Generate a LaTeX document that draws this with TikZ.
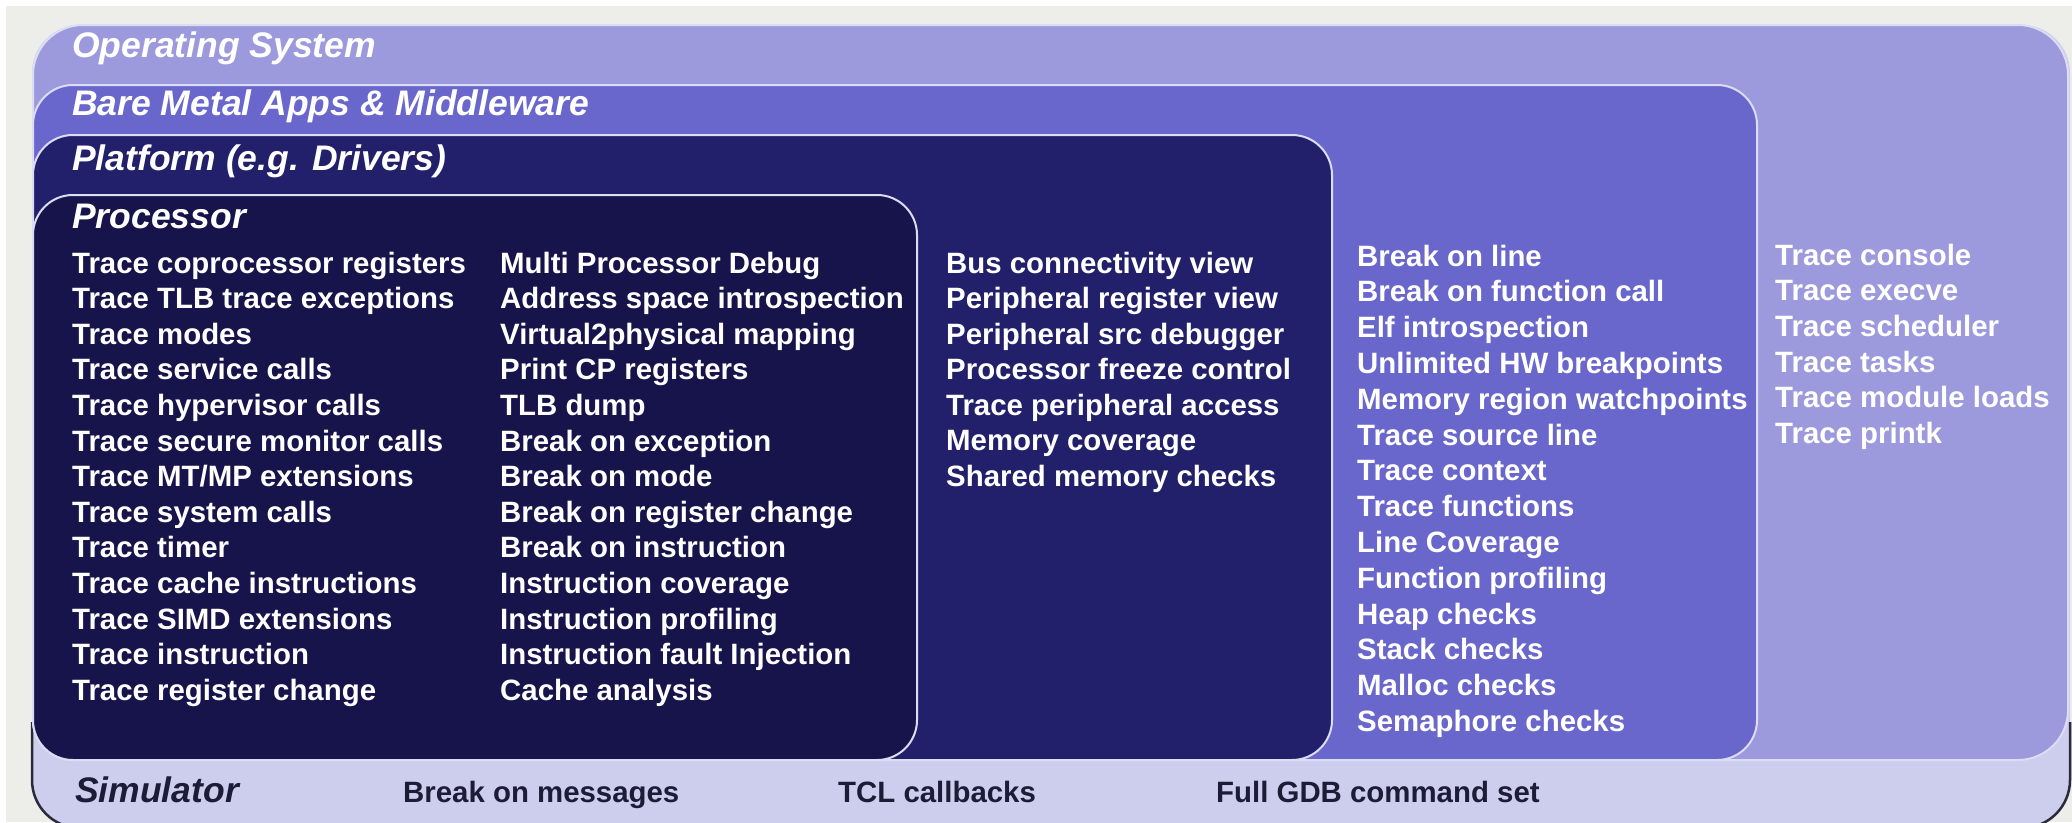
\documentclass[tikz,border=0pt]{standalone}
\usepackage{fontspec}
\setmainfont{Liberation Sans}
\definecolor{backgray}{HTML}{EDEEEA}
\definecolor{simfill}{HTML}{CDCDEE}
\definecolor{osfill}{HTML}{9C9ADC}
\definecolor{bmfill}{HTML}{6967CC}
\definecolor{platfill}{HTML}{22206A}
\definecolor{procfill}{HTML}{16144A}
\definecolor{edgeline}{HTML}{DCDCF4}
\definecolor{simtext}{HTML}{1C1C36}
\definecolor{simedge}{HTML}{2A2A3A}

\begin{document}
\begin{tikzpicture}[x=1pt,y=-1pt,
  layer/.style={draw=edgeline,line width=2pt,rounded corners=40pt},
  head/.style={anchor=base west,inner sep=0pt,text=white,
    font=\fontsize{35.5}{40}\selectfont\bfseries\itshape},
  item/.style={anchor=base west,inner sep=0pt,text=white,
    font=\fontsize{29.4}{35}\selectfont\bfseries},
  simitem/.style={item,text=simtext}]

  \useasboundingbox (0,0) rectangle (2072,822);
  \fill[backgray] (6,6) rectangle (2072,822);

  % simulator, with its dark lower rim
  \fill[simfill, rounded corners=48pt] (32,25) rectangle (2070,828);
  \begin{scope}
  \clip (0,722) rectangle (2072,822);
  \draw[simedge, line width=2.5pt, rounded corners=48pt] (32,25) rectangle (2070,828);
  \end{scope}

  \filldraw[layer, fill=osfill, rounded corners=50pt] (33,25) rectangle (2068,760);
  \filldraw[layer, fill=bmfill] (33,85) rectangle (1757,760);
  \filldraw[layer, fill=platfill] (33,135) rectangle (1332,760);
  \filldraw[layer, fill=procfill] (33,195) rectangle (917,760);

  \node[head] (os)   at (72,57)  {Operating System};
  \node[head] (bm)   at (72,115) {Bare Metal Apps \& Middleware};
  \node[head] (plat) at (72,170) {Platform (e.g. Drivers)};
  \node[head] (proc) at (72,228) {Processor};

  \foreach \txt [count=\i] in {Trace coprocessor registers, Trace TLB trace exceptions,
      Trace modes, Trace service calls, Trace hypervisor calls, Trace secure monitor calls,
      Trace MT/MP extensions, Trace system calls, Trace timer, Trace cache instructions,
      Trace SIMD extensions, Trace instruction, Trace register change}
    \node[item] (proca\i) at (72,{273+35.6*(\i-1)}) {\txt};

  \foreach \txt [count=\i] in {Multi Processor Debug, Address space introspection,
      Virtual2physical mapping, Print CP registers, TLB dump, Break on exception,
      Break on mode, Break on register change, Break on instruction, Instruction coverage,
      Instruction profiling, Instruction fault Injection, Cache analysis}
    \node[item] (procb\i) at (500,{273+35.6*(\i-1)}) {\txt};

  \foreach \txt [count=\i] in {Bus connectivity view, Peripheral register view,
      Peripheral src debugger, Processor freeze control, Trace peripheral access,
      Memory coverage, Shared memory checks}
    \node[item] (plat\i) at (946,{273+35.5*(\i-1)}) {\txt};

  \foreach \txt [count=\i] in {Break on line, Break on function call, Elf introspection,
      Unlimited HW breakpoints, Memory region watchpoints, Trace source line, Trace context,
      Trace functions, Line Coverage, Function profiling, Heap checks, Stack checks,
      Malloc checks, Semaphore checks}
    \node[item] (bm\i) at (1357,{266+35.8*(\i-1)}) {\txt};

  \foreach \txt [count=\i] in {Trace console, Trace execve, Trace scheduler, Trace tasks,
      Trace module loads, Trace printk}
    \node[item] (os\i) at (1775,{265+35.7*(\i-1)}) {\txt};

  \node[head, text=simtext] (sim) at (75,802) {Simulator};
  \node[simitem] (simmsg) at (403,802)  {Break on messages};
  \node[simitem] (simtcl) at (838,802)  {TCL callbacks};
  \node[simitem] (simgdb) at (1216,802) {Full GDB command set};

\end{tikzpicture}
\end{document}
